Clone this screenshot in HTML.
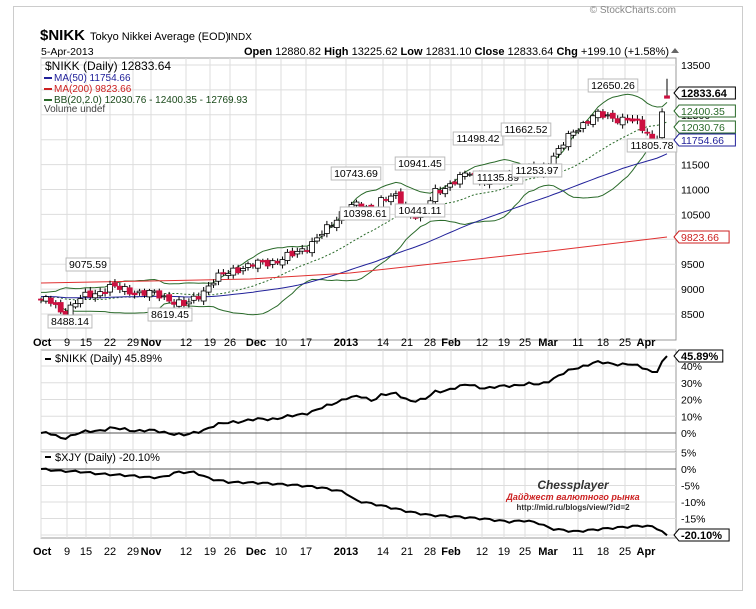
<!DOCTYPE html>
<html><head><meta charset="utf-8"><style>
body{margin:0;background:#fff;width:756px;height:604px;overflow:hidden;font-family:"Liberation Sans",sans-serif}
svg text{font-family:"Liberation Sans",sans-serif}
</style></head><body>
<svg id="c" width="756" height="604" xmlns="http://www.w3.org/2000/svg"></svg>
<script>
var S=document.getElementById('c'),h='';
function L(x1,y1,x2,y2,c,w,d){h+='<line x1="'+x1+'" y1="'+y1+'" x2="'+x2+'" y2="'+y2+'" stroke="'+c+'" stroke-width="'+(w||1)+'"'+(d?' stroke-dasharray="'+d+'"':'')+'/>';}
function T(x,y,t,s,c,a,b){h+='<text x="'+x+'" y="'+y+'" font-size="'+s+'" fill="'+(c||'#000')+'"'+(a?' text-anchor="'+a+'"':'')+(b?' font-weight="bold"':'')+'>'+t+'</text>';}
function P(pts,c,w,d){h+='<polyline fill="none" points="'+pts.map(function(p){return p[0].toFixed(1)+','+p[1].toFixed(1)}).join(' ')+'" stroke="'+c+'" stroke-width="'+(w||1)+'"'+(d?' stroke-dasharray="'+d+'"':'')+'/>';}
function interp(a,x){for(var i=1;i<a.length;i++)if(x<=a[i][0]){var t=(x-a[i-1][0])/(a[i][0]-a[i-1][0]);return a[i-1][1]+t*(a[i][1]-a[i-1][1]);}return a[a.length-1][1];}
h+='<rect x="13.5" y="6.5" width="729" height="584" fill="none" stroke="#ccc"/>';
var X0=41,X1=676,N=128,dx=(667-41)/(N-1);
var py=function(p){return 65+(13500-p)*0.0498};
var gx=[41,67,86,110,133,151,186,210,230,256,281,306,346,383,407,430,451,482,504,525,548,578,603,625,646];
var gl=['Oct','9','15','22','29','Nov','12','19','26','Dec','10','17','2013','14','21','28','Feb','12','19','25','Mar','11','18','25','Apr'];
var bold={'Oct':1,'Nov':1,'Dec':1,'2013':1,'Feb':1,'Mar':1,'Apr':1};
function panel(y0,y1,hl){h+='<rect x="'+X0+'" y="'+y0+'" width="'+(X1-X0)+'" height="'+(y1-y0)+'" fill="#fff" stroke="#999"/>';
gx.forEach(function(x){L(x,y0,x,y1,'#ddd')});hl.forEach(function(y){L(X0,y,X1,y,'#ddd')});}
var pl=[];for(var p=8500;p<=13500;p+=500)pl.push(py(p));
panel(58,340,pl);
var p2=[];for(var v=-10;v<=50;v+=10)p2.push(433-v*1.675);
panel(350,452,p2);
var p3=[];for(var v=5;v>=-20;v-=5)p3.push(469-v*3.3);
panel(452,538,p3);
var A=[[41,8800],[50,8750],[62,8520],[80,8800],[100,8950],[110,9050],[130,8950],[150,8920],[170,8800],[186,8660],[200,8900],[215,9200],[235,9400],[256,9500],[275,9560],[295,9700],[310,9900],[330,10250],[346,10650],[360,10700],[372,10500],[380,10800],[395,10850],[410,10500],[425,10550],[435,10950],[450,11100],[470,11350],[480,11200],[490,11150],[510,11300],[525,11350],[540,11350],[555,11700],[575,12200],[595,12500],[610,12450],[630,12400],[648,12150],[655,11900],[662,12500],[667,12833]];
var cl=[],xs=[];for(var i=0;i<N;i++){var x=41+i*dx;xs.push(x);var v=interp(A,x)+Math.sin(i*2.3)*60+Math.sin(i*0.9)*40;if(i==N-1)v=12833;if(i==0)v=8796;cl.push(v);}
var hist=[];for(var i=0;i<60;i++)hist.push(8850+Math.sin(i)*60);var all=hist.concat(cl);
var up=[],lo=[],mid=[],ma50=[];
for(var i=0;i<N;i++){var k=i+60,s=0,q=0;for(var j=k-19;j<=k;j++)s+=all[j];var m=s/20;for(var j=k-19;j<=k;j++)q+=(all[j]-m)*(all[j]-m);var sd=Math.sqrt(q/20);
mid.push([xs[i],py(m)]);up.push([xs[i],py(m+2*sd)]);lo.push([xs[i],py(m-2*sd)]);var s5=0;for(var j=k-49;j<=k;j++)s5+=all[j];ma50.push([xs[i],py(s5/50)]);}
P(up,'#2a6a2a');P(lo,'#2a6a2a');P(mid,'#2a6a2a',1,'2,2');P(ma50,'#22229a');
P([[41,283],[150,281],[250,279],[350,273],[450,262],[550,251],[667,237]],'#e03030');
for(var i=0;i<N;i++){var o=i?cl[i-1]+Math.sin(i*5.1)*40:8800,c=cl[i],x=xs[i];var hi=Math.max(o,c)+30+Math.abs(Math.sin(i*3))*50,lw=Math.min(o,c)-30-Math.abs(Math.cos(i*2))*50;if(i==N-1){hi=13225;lw=12831;o=12880;}
L(x,py(hi),x,py(lw),'#000');var t=py(Math.max(o,c)),b=py(Math.min(o,c));if(b-t<1)b=t+1;
h+='<rect x="'+(x-2.5)+'" y="'+t+'" width="5" height="'+(b-t)+'" fill="'+(c>=o?'#fff':'#cc1040')+'" stroke="'+(c>=o?'#000':'#cc1040')+'" stroke-width="0.8"/>';}
[[88,268,'9075.59'],[70,325,'8488.14'],[170,318,'8619.45'],[356,177,'10743.69'],[365,217,'10398.61'],[420,167,'10941.45'],[420,214,'10441.11'],[478,142,'11498.42'],[498,181,'11135.89'],[526,133,'11662.52'],[537,174,'11253.97'],[613,89,'12650.26'],[652,149,'11805.78']].forEach(function(a){var w=a[2].length*5.7+4;h+='<rect x="'+(a[0]-w/2)+'" y="'+(a[1]-10)+'" width="'+w+'" height="13" fill="#fff" stroke="#bbb"/>';T(a[0],a[1],a[2],10.5,'#000','middle');});
for(var p=8500;p<=13500;p+=500)T(681,py(p)+4,p,10.5);
function box(y,t,c,b){var w=t.length*6.3+6;h+='<polygon points="674,'+y+' 679,'+(y-6)+' '+(679+w)+','+(y-6)+' '+(679+w)+','+(y+6)+' 679,'+(y+6)+'" fill="#fff" stroke="'+c+'"/>';T(681,y+4,t,b?11:10.5,b?'#000':c,null,b);}
box(93,'12833.64','#000',1);box(111,'12400.35','#2a6a2a');box(127,'12030.76','#2a6a2a');box(140,'11754.66','#22229a');box(237,'9823.66','#cc2020');
var q2=cl.map(function(c,i){return [xs[i],433-(c/8796-1)*100*1.675]});
L(X0,433,X1,433,'#555');P(q2,'#000',2);
[[40,'40%'],[30,'30%'],[20,'20%'],[10,'10%'],[0,'0%']].forEach(function(a){T(681,433-a[0]*1.675+4,a[1],10.5)});
box(356,'45.89%','#000',1);
var B=[[41,0],[60,-0.6],[80,-0.8],[100,-1.5],[130,-2],[150,-2.6],[165,-2.4],[175,-1],[195,-1],[210,-3],[230,-4],[260,-4.2],[300,-5],[320,-5.6],[345,-7],[355,-9.5],[380,-11],[410,-13],[430,-14],[450,-14.3],[480,-15],[510,-16],[525,-15.6],[540,-16.5],[550,-18],[575,-19],[600,-18.2],[640,-17.2],[655,-17.5],[667,-20.1]];
var q3=xs.map(function(x,i){return [x,469-(interp(B,x)+Math.sin(i*2.1)*0.3*(i>0&&i<N-1?1:0))*3.3]});
L(X0,469,X1,469,'#555');P(q3,'#000',2);
[[5,'5%'],[0,'0%'],[-5,'-5%'],[-10,'-10%'],[-15,'-15%']].forEach(function(a){T(681,469-a[0]*3.3+4,a[1],10.5)});
box(535,'-20.10%','#000',1);
function xl(y){gx.forEach(function(x,i){T(x+(i==0?-8:0),y,gl[i],11,'#000',i==0?'start':'middle',bold[gl[i]])});}
xl(346);xl(555);
h+='<text x="40" y="40" font-size="15" font-weight="bold">$NIKK</text>';T(90,40,'Tokyo Nikkei Average (EOD)',11);T(228,40,'INDX',10);
T(41,55,'5-Apr-2013',10.5);
h+='<text x="669" y="55" font-size="11" text-anchor="end"><tspan font-weight="bold">Open</tspan> 12880.82 <tspan font-weight="bold">High</tspan> 13225.62 <tspan font-weight="bold">Low</tspan> 12831.10 <tspan font-weight="bold">Close</tspan> 12833.64 <tspan font-weight="bold">Chg</tspan> +199.10 (+1.58%)</text>';
h+='<polygon points="671,53 679,53 675,48" fill="#666"/>';
T(676,13,'© StockCharts.com',10,'#888','end');
T(45,70,'$NIKK (Daily) 12833.64',12);
L(44,78,52,78,'#22229a',2);T(54,81,'MA(50) 11754.66',10,'#22229a');
L(44,89,52,89,'#cc2020',2);T(54,92,'MA(200) 9823.66',10,'#cc2020');
L(44,100,52,100,'#2a6a2a',2);T(54,103,'BB(20,2.0) 12030.76 - 12400.35 - 12769.93',10,'#1a4a1a');
T(44,112,'Volume undef',10,'#444');
L(45,359,51,359,'#000',2);T(55,362,'$NIKK (Daily) 45.89%',11);
L(45,457,51,457,'#000',2);T(55,461,'$XJY (Daily) -20.10%',11);
h+='<text x="573" y="489" font-size="12" font-style="italic" font-weight="bold" fill="#333" text-anchor="middle" font-family="Liberation Serif">Chessplayer</text>';
h+='<text x="573" y="500" font-size="9" font-style="italic" font-weight="bold" fill="#cc2222" text-anchor="middle" font-family="Liberation Serif">Дайджест валютного рынка</text>';
h+='<text x="573" y="510" font-size="8" font-weight="bold" fill="#333" text-anchor="middle" font-family="Liberation Serif">http://mid.ru/blogs/view/?id=2</text>';
S.innerHTML=h;
</script>
</body></html>
